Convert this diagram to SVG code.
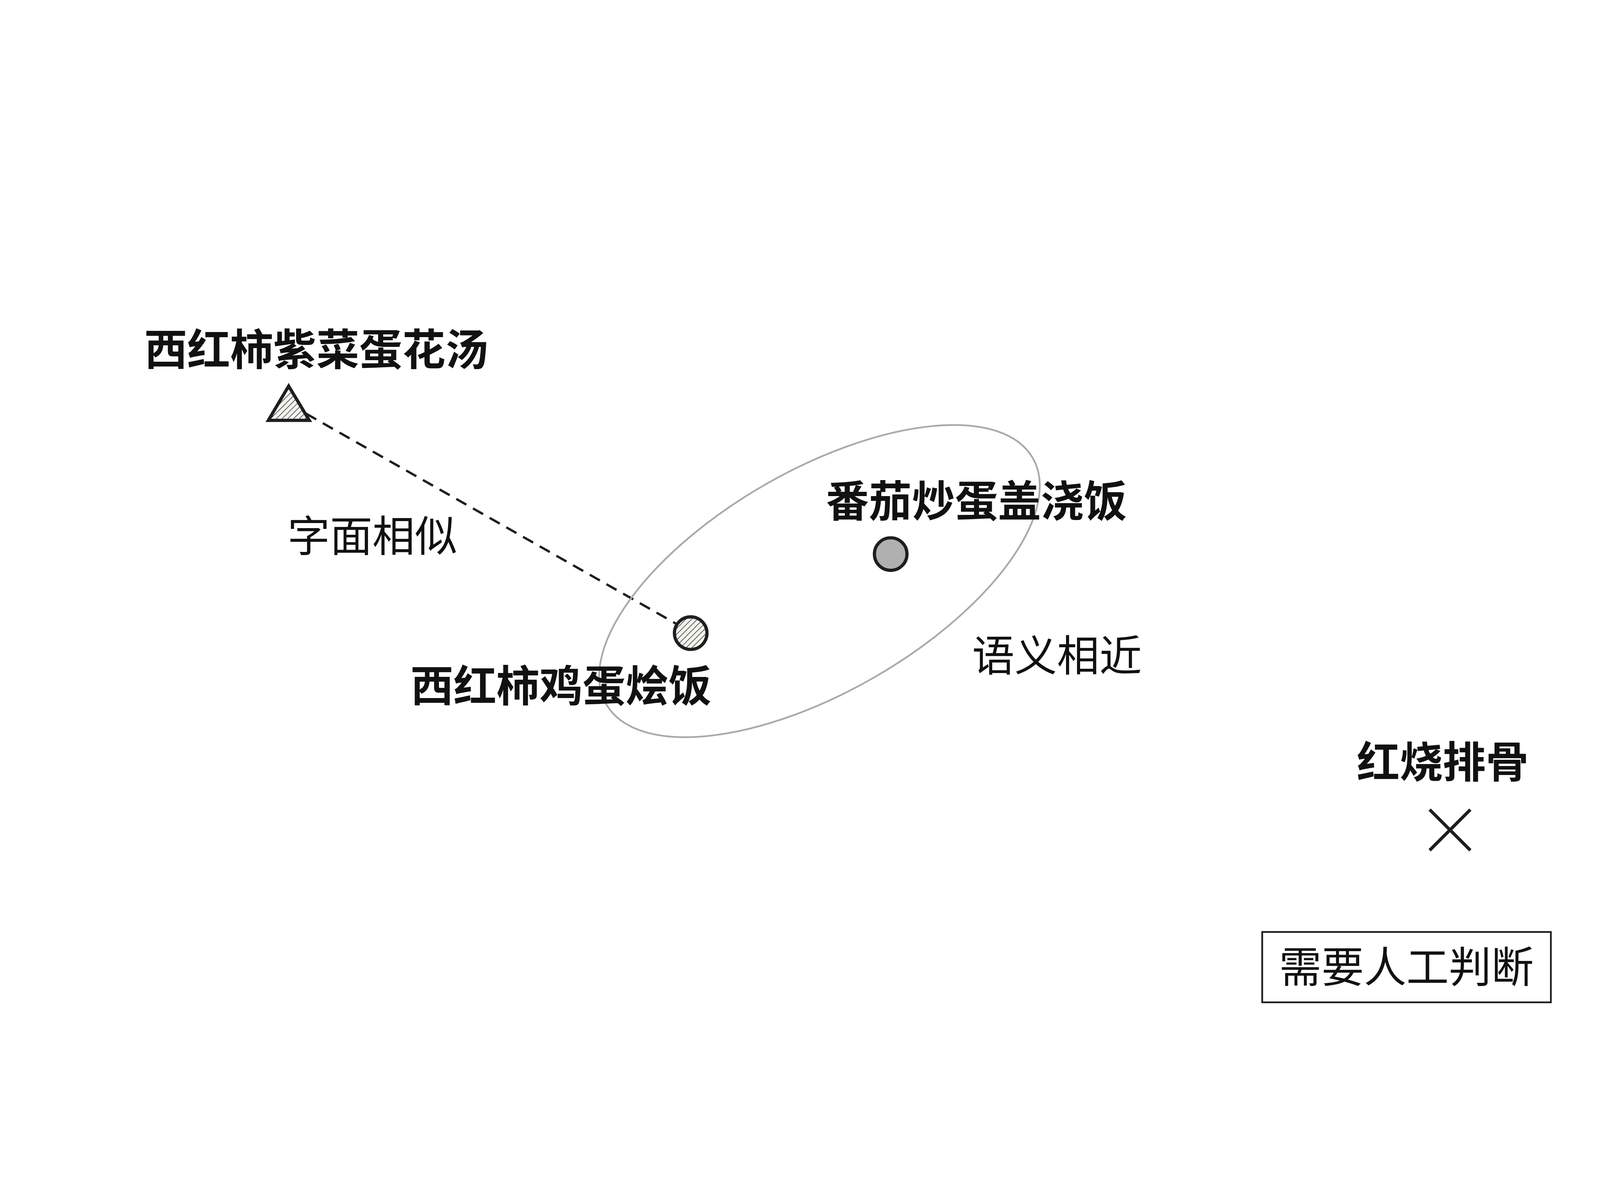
<svg xmlns="http://www.w3.org/2000/svg" width="5504" height="3072" viewBox="0 0 5504 3072" preserveAspectRatio="xMidYMid meet" style="max-width:100vw;max-height:100vh">
<style>
text{font-family:"Noto Sans CJK SC","Noto Sans",sans-serif;fill:#111;text-anchor:middle}
.b{font-weight:700;font-size:148px}
.r{font-weight:400;font-size:146px}
.mk{stroke:#1e1e1e;stroke-width:11}
</style>
<defs>
<pattern id="h" width="14" height="14" patternUnits="userSpaceOnUse" patternTransform="rotate(45)">
<rect width="14" height="14" fill="#f4f4ee"/>
<line x1="0" y1="0" x2="0" y2="14" stroke="#555" stroke-width="5"/>
</pattern>
</defs>
<rect width="5504" height="3072" fill="#fff"/>
<g id="connectors">
<line x1="1053" y1="895" x2="2330" y2="1620" stroke="#1e1e1e" stroke-width="8" stroke-dasharray="40 26"/>
<ellipse cx="2819" cy="1471" rx="847" ry="381" transform="rotate(-30 2819 1471)" fill="none" stroke="#aaa" stroke-width="6"/>
<text class="r" x="1281" y="1370">字面相似</text>
<text class="r" x="3636" y="1780">语义相近</text>
</g>
<g id="n1">
<polygon points="993,800 1064,918 923,918" fill="url(#h)" class="mk"/>
<text class="b" x="1088" y="728">西红柿紫菜蛋花汤</text>
</g>
<g id="n2">
<circle cx="3064" cy="1378" r="56" fill="#b0b0b0" class="mk"/>
<text class="b" x="3359" y="1250">番茄炒蛋盖浇饭</text>
</g>
<g id="n3">
<circle cx="2376" cy="1650" r="56" fill="url(#h)" class="mk"/>
<text class="b" x="1930" y="1885">西红柿鸡蛋烩饭</text>
</g>
<g id="n4">
<path d="M4918,2257 L5058,2397 M5058,2257 L4918,2397" class="mk" stroke-width="13" fill="none"/>
<text class="b" x="4963" y="2147">红烧排骨</text>
</g>
<g id="n5">
<rect x="4342" y="2678" width="993" height="242" fill="#fff" stroke="#1e1e1e" stroke-width="6"/>
<text class="r" x="4838" y="2852">需要人工判断</text>
</g>
</svg>
